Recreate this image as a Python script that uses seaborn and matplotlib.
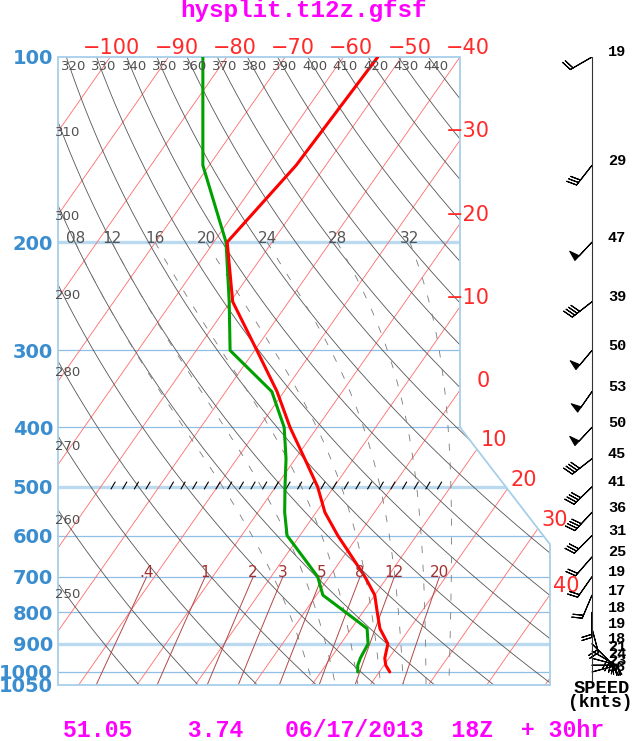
import numpy as np
import pandas as pd
import matplotlib
matplotlib.use("Agg")
import matplotlib.pyplot as plt
from matplotlib.patches import Polygon
from matplotlib.ticker import NullLocator, FixedLocator
import seaborn as sns

# ---------------- data ----------------
pressure = [100, 150, 200, 250, 300, 350, 400, 450, 500, 550, 600, 650,
            700, 750, 800, 850, 900, 925, 950, 975, 1000]
temperature = [-54.1, -55.1, -57.7, -49.6, -39.6, -31.2, -24.7, -18.4, -12.8, -8.5,
               -3.5, 1.5, 6.1, 10.0, 12.5, 14.9, 18.1, 18.7, 19.3, 20.3, 21.8]
dewpoint = [-84.1, -71.1, -57.9, -50.2, -44.2, -32.1, -25.7, -21.6, -18.4, -15.4,
            -12.2, -6.9, -2.0, 1.1, 7.1, 12.7, 14.7, 14.9, 15.1, 15.5, 16.3]
wind_speed = [19, 29, 47, 39, 50, 53, 50, 45, 41, 36, 31, 25, 19, 17, 18, 19, 18, 21, 24, 23, 16]
wind_dir = [240, 218, 223, 232, 220, 215, 223, 232, 226, 223, 225, 221, 215, 203,
            180, 165, 135, 120, 105, 90, 75]

pressure_ticks = [100, 200, 300, 400, 500, 600, 700, 800, 900, 1000, 1050]
isobar_levels = [200, 300, 400, 500, 600, 700, 800, 900, 1000]
thick_isobars = [200, 500, 900]
isotherm_values = list(range(-160, 60, 10))
isotherm_labels = list(range(-100, 50, 10))
dry_adiabats = list(range(250, 450, 10))
dry_top_labels = list(range(320, 450, 10))
dry_left_labels = list(range(250, 320, 10))
moist_adiabats = [8, 12, 16, 20, 24, 28, 32]
mixing_ratios = [0.4, 1, 2, 3, 5, 8, 12, 20]
mixing_labels = [".4", "1", "2", "3", "5", "8", "12", "20"]
title = "hysplit.t12z.gfsf"
footer = "51.05    3.74   06/17/2013  18Z  + 30hr"

# ---------------- geometry / style ----------------
W, H = 632, 741
SKEW = 32.07            # skew factor (deg C per ln(p))
X_L, X_R = -108.95, -24.56
BLUE = "#3a8dcf"
EDGE = "#a6cfe9"
ISO_C = "#ff6a6a"
DRY_C = "#555555"
MIX_C = "#b04848"

sns.set_style("white")
plt.rcParams["font.family"] = ["DejaVu Sans"]


def skew(t, p):
    return np.asarray(t, dtype=float) - SKEW * np.log(np.asarray(p, dtype=float) / 100.0)


def es_hpa(tc):
    return 6.112 * np.exp(17.67 * tc / (tc + 243.5))


def theta_e_sat(tk, p):
    e = es_hpa(tk - 273.15)
    r = 1000.0 * 0.622 * e / (p - e)
    return tk * (1000.0 / p) ** (0.2854 * (1 - 0.00028 * r)) * np.exp((3.376 / tk - 0.00254) * r * (1 + 0.00081 * r))


def moist_profile(tw, p):
    te = theta_e_sat(tw + 273.15, 1000.0)
    lo = np.full(p.shape, 150.0)
    hi = np.full(p.shape, 320.0)
    for _ in range(60):
        mid = 0.5 * (lo + hi)
        f = theta_e_sat(mid, p) - te
        hi = np.where(f > 0, mid, hi)
        lo = np.where(f > 0, lo, mid)
    return 0.5 * (lo + hi) - 273.15


def mix_td(w, p):
    e = w * p / (622.0 + w)
    a = np.log(e / 6.112)
    return 243.5 * a / (17.67 - a)


fig = plt.figure(figsize=(W / 100, H / 100), dpi=100)
ax = fig.add_axes([58 / W, (H - 685) / H, 492 / W, 628 / H])
ax.set_yscale("log")

verts = [(X_L, 100), (-40, 100), (-40, 400), (X_R, 620), (X_R, 1050), (X_L, 1050)]
poly = Polygon(verts, closed=True, fill=False, edgecolor=EDGE, lw=1.3,
               transform=ax.transData, zorder=5)
ax.add_patch(poly)
poly.set_clip_on(False)

# isobars
for p in isobar_levels:
    thick = p in thick_isobars
    ln, = ax.plot([X_L, X_R], [p, p], color="#bcdaef" if thick else "#8fbfe2",
                  lw=2.4 if thick else 0.9, zorder=1)
    ln.set_clip_path(poly)

# isotherms
for t in isotherm_values:
    ln, = ax.plot(skew([t, t], [1050, 100]), [1050, 100], color=ISO_C, lw=0.6, zorder=2)
    ln.set_clip_path(poly)

# dry adiabats
pg = np.geomspace(100, 1050, 200)
for th in dry_adiabats:
    tc = th * (pg / 1000.0) ** 0.286 - 273.15
    ln, = ax.plot(skew(tc, pg), pg, color=DRY_C, lw=0.6, zorder=2)
    ln.set_clip_path(poly)

# moist adiabats
pm = np.geomspace(200, 1050, 160)
moist_x200 = []
for tw in moist_adiabats:
    tc = moist_profile(tw, pm)
    ln, = ax.plot(skew(tc, pm), pm, color="#7a7a7a", lw=0.6, dashes=(8.5, 14), zorder=2)
    ln.set_clip_path(poly)
    moist_x200.append(skew(tc[0], pm[0]))

# mixing ratio lines
pw = np.geomspace(700, 1050, 40)
mix_x700 = []
for w in mixing_ratios:
    td = mix_td(w, pw)
    ln, = ax.plot(skew(td, pw), pw, color=MIX_C, lw=0.7, zorder=2)
    ln.set_clip_path(poly)
    mix_x700.append(skew(td[0], pw[0]))

# hatch marks along 500 hPa
hatch_x = np.delete(np.arange(29) * 2.0 - 99.5, 4)
hx, hy = [], []
for xx in hatch_x:
    hx += [xx - 0.35, xx + 0.35, np.nan]
    hy += [504, 491, np.nan]
ax.plot(hx, hy, color="black", lw=0.8, zorder=3)

# profiles
prof = pd.DataFrame({"p": pressure, "T": temperature, "Td": dewpoint})
prof["xT"] = skew(prof["T"], prof["p"])
prof["xTd"] = skew(prof["Td"], prof["p"])
sns.lineplot(data=prof, x="xTd", y="p", sort=False, estimator=None, color="#00a000",
             lw=2.2, ax=ax, zorder=6)
sns.lineplot(data=prof, x="xT", y="p", sort=False, estimator=None, color="#ff0000",
             lw=2.2, ax=ax, zorder=7)

ax.set_xlim(X_L, X_R)
ax.set_ylim(1050, 100)
ax.set_xlabel("")
ax.set_ylabel("")
for s in ax.spines.values():
    s.set_visible(False)
ax.set_xticks([])
ax.yaxis.set_major_locator(FixedLocator(pressure_ticks))
ax.yaxis.set_minor_locator(NullLocator())
ax.set_yticklabels([str(p) for p in pressure_ticks])
ax.tick_params(axis="y", length=0, pad=3.6, labelsize=14, labelcolor=BLUE)
for t in ax.get_yticklabels():
    t.set_fontweight("bold")

# isotherm labels
m_sl = (X_R + 40) / (np.log(6.2) - np.log(4))
for t in isotherm_labels:
    if t <= -40:
        xc, pc = float(t), 100.0
    else:
        u = (t + 40) / SKEW
        if u <= np.log(4):
            xc, pc = -40.0, 100 * np.exp(u)
        else:
            u = (t + 40 + m_sl * np.log(4)) / (m_sl + SKEW)
            if u <= np.log(6.2):
                xc, pc = t - SKEW * u, 100 * np.exp(u)
            else:
                u = (t - X_R) / SKEW
                xc, pc = X_R, 100 * np.exp(u)
    ax.annotate(str(t).replace("-", "\u2212"), (xc, pc), xytext=(21.6, 6.5),
                textcoords="offset points", ha="right", va="center", fontsize=15,
                color="#ff2a2a", annotation_clip=False, zorder=8)

# dry adiabat labels
for th in dry_top_labels:
    xc = skew(th * 0.1 ** 0.286 - 273.15, 100)
    ax.annotate(str(th), (xc, 100), xytext=(5.4, -7.2), textcoords="offset points",
                ha="center", va="center", fontsize=9.5, color="#505050", zorder=8)
for th in dry_left_labels:
    xs = skew(th * (pg / 1000.0) ** 0.286 - 273.15, pg)
    pc = np.interp(X_L, xs, pg)
    ax.annotate(str(th), (X_L, pc), xytext=(7.2, -7.9), textcoords="offset points",
                ha="center", va="center", fontsize=9.5, color="#505050", zorder=8)

# moist adiabat labels
for tw, xc in zip(moist_adiabats, moist_x200):
    ax.annotate(f"{tw:02d}", (xc, 200), xytext=(0, 2.5), textcoords="offset points",
                ha="center", va="center", fontsize=11, color="#555555", zorder=8)

# mixing ratio labels
for lab, xc in zip(mixing_labels, mix_x700):
    ax.annotate(lab, (xc, 700), xytext=(0, 3.2), textcoords="offset points",
                ha="center", va="center", fontsize=11, color="#a33030", zorder=8)

# ---------------- wind panel ----------------
axw = fig.add_axes([552 / W, (H - 685) / H, 80 / W, 628 / H])
axw.set_yscale("log")
axw.set_ylim(1050, 100)
axw.set_xlim(0, 80)
axw.axis("off")
axw.plot([40, 40], [100, 1050], color="#333333", lw=0.8)
spd = np.array(wind_speed, dtype=float)
rad = np.deg2rad(wind_dir)
u = -spd * np.sin(rad)
v = -spd * np.cos(rad)
axw.barbs(np.full(len(spd), 40.0), pressure, u, v, length=6, rounding=True,
          barb_increments=dict(half=10, full=10, flag=50), lw=0.8, color="black")
for p, s in zip(pressure, wind_speed):
    axw.annotate(str(s), (65, p), xytext=(0, 3.3), textcoords="offset points",
                 ha="center", va="center", fontsize=11, fontweight="bold",
                 family="Liberation Mono", color="black", annotation_clip=False)

# ---------------- texts ----------------
fig.text(303.5 / W, 1 - 17.5 / H, title, ha="center", va="baseline", fontsize=17.5,
         fontweight="bold", family="Liberation Mono", color="#ff00ff")
fig.text(63 / W, 1 - 737 / H, footer, ha="left", va="baseline", fontsize=16.7,
         fontweight="bold", family="Liberation Mono", color="#ff00ff")
fig.text(602 / W, 1 - 693 / H, "SPEED", ha="center", va="baseline", fontsize=13.5,
         fontweight="bold", family="Liberation Mono", color="black")
fig.text(600 / W, 1 - 707 / H, "(knts)", ha="center", va="baseline", fontsize=13,
         fontweight="bold", family="Liberation Mono", color="black")

fig.savefig("out.png", dpi=100)
